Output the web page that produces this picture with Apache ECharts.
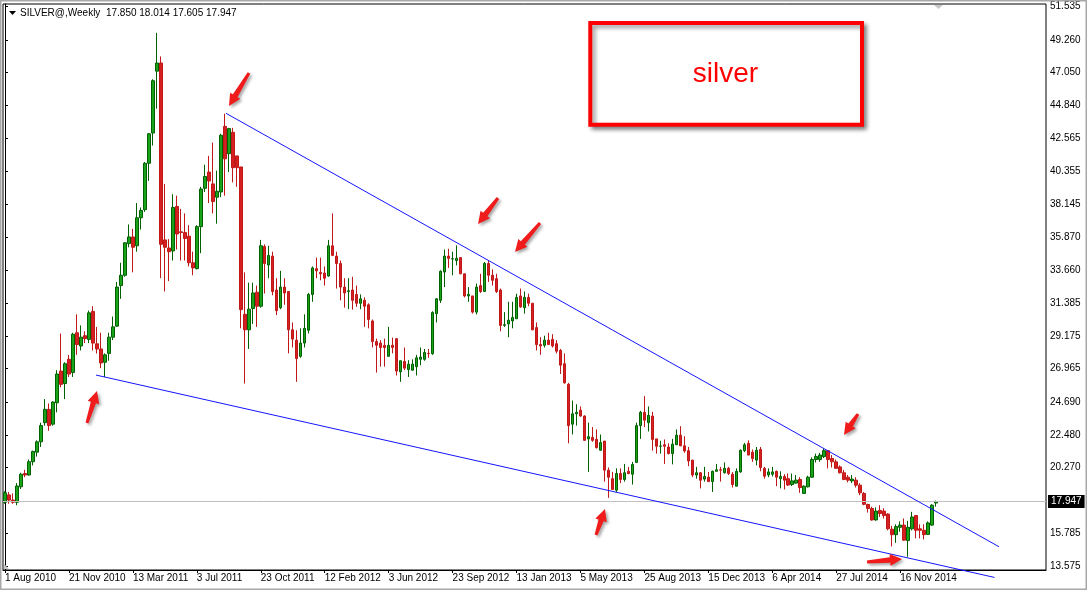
<!DOCTYPE html>
<html>
<head>
<meta charset="utf-8">
<script src="https://cdn.jsdelivr.net/npm/echarts@6/dist/echarts.min.js"></script>
<style>
html,body{margin:0;padding:0;background:#fff;}
#chart{width:1087px;height:590px;}
</style>
</head>
<body>
<div id="chart"></div>
<script>
// Weekly OHLC, first week 1 Aug 2010
const opens = [
17.9,18.4,18.05,17.9,18.95,19.85,19.75,20.65,21.3,22.0,23.3,24.2,23.2,24.65,26.8,25.95,27.6,26.7,29.4,28.5,
29.2,28.95,30.85,28.65,28.3,27.4,28.0,29.1,29.85,32.6,33.3,35.45,35.9,35.3,37.2,37.75,40.9,42.95,47.15,47.7,
35.7,35.15,34.95,37.97,36.25,36.2,35.95,34.15,33.75,36.6,39.2,40.3,39.5,38.6,38.95,43.4,41.55,43.0,41.4,40.65,
30.65,29.6,31.05,32.15,31.2,35.25,34.0,34.6,32.3,31.1,32.5,32.2,29.6,28.9,27.8,28.7,29.57,32.0,33.75,33.5,
33.45,33.25,35.3,34.6,34.1,32.5,32.2,32.3,32.0,31.4,31.6,31.3,30.2,28.8,28.7,28.55,27.8,28.55,29.0,26.75,
27.45,26.9,26.86,27.1,27.6,27.6,28.0,27.98,30.7,31.6,33.52,34.6,34.4,34.3,34.5,33.4,31.9,31.9,30.8,32.6,
32.2,34.1,33.3,33.07,32.3,29.9,30.0,30.2,30.35,31.9,31.1,31.8,31.4,29.75,28.6,28.55,28.9,28.95,28.66,28.2,
27.3,25.9,23.2,23.9,24.15,23.75,22.2,22.3,22.17,21.43,22.05,20.08,19.5,18.72,19.85,19.45,20.0,19.8,20.6,23.1,
24.0,23.3,23.75,22.2,21.7,21.8,21.65,21.2,21.8,22.45,21.73,21.4,20.76,19.75,19.9,19.47,19.6,19.3,20.0,20.1,
19.9,20.2,19.8,18.99,19.96,21.4,21.9,21.3,20.76,21.48,20.2,19.75,19.8,20.0,19.5,19.65,19.5,19.1,19.2,19.45,
18.5,18.95,19.6,20.8,20.8,21.0,21.4,20.87,20.64,20.3,19.9,19.6,19.35,19.4,19.06,18.5,17.75,17.48,16.7,17.35,
17.3,17.1,16.07,15.7,16.2,16.35,15.3,16.1,17.0,16.1,16.0,15.72,16.35,17.85
];
const closes = [
18.54,18.05,17.9,19.0,19.8,19.75,20.65,21.35,22.0,23.1,24.2,23.1,24.7,26.6,25.9,27.3,26.6,29.3,28.6,29.1,
29.0,30.75,28.7,28.3,27.35,27.9,29.1,29.8,32.5,33.3,35.5,35.9,35.2,37.2,37.7,40.9,42.9,46.5,47.7,35.4,
35.2,34.9,37.9,36.1,36.2,35.8,34.15,33.8,36.6,39.15,40.0,39.7,38.3,39.0,42.8,41.2,43.25,40.6,40.6,30.97,
29.6,31.0,32.1,31.2,35.3,34.1,34.65,32.2,30.9,32.5,32.1,29.6,28.97,27.65,28.7,29.7,32.0,33.8,33.6,33.4,
33.1,35.3,34.65,34.1,32.5,32.1,32.25,31.6,31.4,31.7,31.2,30.3,28.8,28.55,28.4,28.4,28.55,28.4,26.8,27.5,
27.0,27.27,27.27,27.7,27.75,28.06,27.98,30.77,31.7,33.57,34.6,34.45,34.42,34.45,33.4,31.9,32.0,30.8,32.5,32.2,
34.1,33.3,32.96,32.2,29.9,29.95,30.25,30.44,31.8,31.15,31.8,31.4,29.6,28.6,28.5,28.9,28.6,28.5,28.15,27.2,
26.0,23.1,23.9,24.0,23.75,22.1,22.35,22.1,21.6,21.95,20.08,19.6,18.77,19.85,19.45,19.9,19.85,20.46,23.1,24.0,
23.47,23.8,22.16,21.7,21.72,21.7,21.2,21.84,22.45,21.73,21.38,20.7,19.75,19.9,19.4,19.65,19.3,20.0,20.1,20.08,
20.2,19.85,19.1,20.0,21.43,21.8,21.1,20.87,21.43,20.26,19.67,19.96,19.96,19.6,19.65,19.4,19.07,19.35,19.4,18.9,
18.99,19.6,20.8,21.0,21.1,21.4,20.8,20.64,20.2,19.9,19.45,19.4,19.47,19.06,18.54,17.76,17.48,16.7,17.3,17.14,
17.0,16.1,15.7,16.25,16.35,15.33,16.2,16.9,16.0,16.0,15.7,16.5,17.7,17.947
];
const lows = [
17.8,17.8,17.8,17.7,18.8,19.6,19.7,20.4,21.0,21.65,23.1,22.75,23.1,24.0,25.7,24.9,26.4,26.4,27.9,28.2,
28.7,28.7,28.2,27.99,27.0,26.4,27.5,28.9,29.8,31.7,33.2,35.2,33.5,34.9,36.4,37.6,39.7,42.1,44.6,33.1,
32.2,32.9,34.3,35.05,34.3,34.3,33.9,33.3,33.7,34.8,38.95,38.2,37.5,36.8,38.6,38.7,40.3,39.6,39.3,29.7,
25.95,28.3,30.0,29.8,31.1,32.06,33.1,31.94,30.6,31.0,31.3,28.0,28.4,26.07,27.7,28.4,29.35,31.5,33.1,32.96,
32.6,33.2,34.6,32.4,31.6,31.1,31.0,30.97,31.15,31.0,29.8,29.7,28.4,26.7,27.1,27.1,27.8,28.0,26.5,26.07,
26.86,26.4,26.86,26.5,27.2,27.5,27.7,27.9,30.1,31.42,32.5,33.8,33.3,33.97,33.4,31.8,31.5,30.7,30.64,32.1,
32.2,32.85,32.6,32.1,29.5,29.8,29.1,29.7,30.35,31.1,30.7,31.2,29.57,28.2,27.9,28.4,28.6,28.4,28.0,26.6,
25.95,21.9,22.5,23.1,23.7,22.07,19.96,22.0,21.55,21.4,19.3,18.2,18.77,18.6,19.2,19.3,19.8,19.1,20.6,22.2,
23.0,22.7,21.4,21.2,21.2,20.5,21.15,20.47,21.8,21.7,21.26,20.35,19.6,19.5,18.84,19.3,19.3,18.6,20.0,19.3,
19.85,19.75,18.9,18.99,19.9,21.3,21.1,20.64,20.4,20.0,19.5,19.6,19.65,18.99,18.84,18.77,19.0,19.0,19.15,18.54,
18.46,18.9,19.55,20.6,20.65,20.9,20.2,20.26,20.2,19.85,19.4,19.25,19.2,18.9,18.38,17.7,17.2,16.65,16.65,16.9,
16.8,16.0,14.9,15.15,15.9,15.28,14.2,16.0,15.45,15.45,15.38,15.7,16.3,17.605
];
const highs = [
18.65,18.6,18.5,19.2,19.9,20.1,20.8,21.4,22.1,23.3,24.9,24.6,24.75,26.86,29.35,27.4,27.9,29.4,30.65,29.9,
29.5,30.9,31.2,29.8,29.4,28.0,29.4,30.5,32.85,34.15,35.55,36.75,36.45,38.2,37.9,40.98,42.95,46.6,49.75,48.15,
39.5,35.75,38.8,38.7,37.8,37.5,36.7,34.9,36.7,39.3,40.8,41.4,42.3,40.4,42.9,44.26,43.3,43.3,41.4,40.65,
33.5,32.8,32.8,32.6,35.7,35.4,35.3,34.9,33.1,33.6,33.1,32.2,30.1,29.57,29.7,30.65,32.1,33.9,34.5,34.5,
33.9,35.7,37.5,34.9,34.3,33.1,33.1,33.2,32.6,32.0,31.8,31.4,30.3,29.0,28.9,29.0,29.8,29.07,29.0,27.5,
28.4,27.54,27.6,27.9,28.4,28.3,28.3,30.86,31.75,33.64,35.04,35.1,34.9,35.33,34.5,33.4,32.5,31.9,32.74,33.4,
34.2,34.3,33.7,33.4,32.4,30.8,31.5,31.5,32.05,32.4,32.2,32.05,31.4,30.1,29.1,29.2,29.4,29.3,28.9,28.3,
28.0,26.0,24.8,24.55,24.4,23.8,23.3,23.0,22.84,22.5,22.05,20.26,19.96,20.2,20.2,20.5,20.3,20.64,23.3,24.1,
25.1,24.4,24.03,22.2,22.07,22.16,21.9,22.2,22.84,23.06,22.38,21.65,20.76,20.3,19.95,20.3,19.95,20.05,20.5,20.3,
20.6,20.3,19.95,20.2,21.48,21.93,22.1,21.48,21.65,21.65,20.3,20.2,20.3,20.05,20.0,19.8,19.85,19.85,19.75,19.6,
19.05,19.7,20.94,21.2,21.25,21.55,21.45,21.1,20.8,20.4,20.1,19.75,19.75,19.6,19.2,18.6,17.8,17.6,17.55,17.7,
17.5,17.15,16.3,16.4,16.6,16.8,16.64,17.25,17.0,16.4,16.4,16.6,17.77,18.014
];
const tickLabels = ['1 Aug 2010','21 Nov 2010','13 Mar 2011','3 Jul 2011','23 Oct 2011','12 Feb 2012','3 Jun 2012',
  '23 Sep 2012','13 Jan 2013','5 May 2013','25 Aug 2013','15 Dec 2013','6 Apr 2014','27 Jul 2014','16 Nov 2014'];
const yLabels = [51.535,49.260,47.050,44.840,42.565,40.355,38.145,35.870,33.660,31.385,29.175,26.965,24.690,22.480,20.270,15.785,13.575];
const currentPrice = 17.947;
// trend lines drawn by hand on the chart: [week index, price]
const upperTrend = [[55.3, 44.29], [248.75, 14.88]];
const lowerTrend = [[22.77, 26.53], [247.6, 12.80]];
// annotation arrows (tail, tip) in pixels
const arrows = [
  [[249,73],[229,106]],
  [[87,423],[97,391]],
  [[498,198],[478,224]],
  [[540,223],[515,252]],
  [[596,535],[605,509]],
  [[858,414],[844,435]],
  [[867,562],[902,559]]
];

const SLOTS = 261; // chart area includes a right-hand shift
const categories = [];
for (let i = 0; i < SLOTS; i++) categories.push('w' + i);
const ohlc = opens.map((o, i) => [o, closes[i], lows[i], highs[i]]);
const last = opens.length - 1;
const header = 'SILVER@,Weekly  ' + [opens[last], highs[last], lows[last], closes[last]].map(v => v.toFixed(3)).join(' ');

function arrowPoints(t, p) {
  const dx = p[0] - t[0], dy = p[1] - t[1];
  const L = Math.hypot(dx, dy);
  const ux = dx / L, uy = dy / L, nx = -uy, ny = ux;
  const h = 12, hw = 6, sw0 = 1.5, sw1 = 2.7;
  const bx = p[0] - ux * h, by = p[1] - uy * h;
  return [
    [t[0] + nx * sw0, t[1] + ny * sw0], [bx + nx * sw1, by + ny * sw1], [bx + nx * hw, by + ny * hw],
    [p[0], p[1]], [bx - nx * hw, by - ny * hw], [bx - nx * sw1, by - ny * sw1], [t[0] - nx * sw0, t[1] - ny * sw0]
  ];
}

const FONT = 'Liberation Sans, Arial, sans-serif';
const chart = echarts.init(document.getElementById('chart'), null, {renderer: 'canvas'});
const isTick = (index) => index % 16 === 0 && index / 16 < tickLabels.length;

const graphics = [
  {type: 'rect', shape: {x: 0.5, y: 0.5, width: 1086, height: 589}, style: {fill: 'none', stroke: '#a8a8a8', lineWidth: 2}, silent: true, z: 100},
  {type: 'polygon', shape: {points: [[9, 11], [16, 11], [12.5, 15]]}, style: {fill: '#000'}, z: 100},
  {type: 'text', x: 20, y: 13, style: {text: header, font: '10px ' + FONT, fill: '#000', textVerticalAlign: 'middle'}, z: 100},
  {type: 'polygon', shape: {points: [[934, 5], [943, 5], [938.5, 9]]}, style: {fill: '#c8c8c8'}, z: 100},
  {type: 'polygon', shape: {points: [[4, 564], [4, 569], [9, 569]]}, style: {fill: '#c8c8c8'}, z: 100},
  {type: 'rect', shape: {x: 590.3, y: 23, width: 271.7, height: 101.7}, style: {fill: '#fff', stroke: '#ff0000', lineWidth: 4,
    shadowBlur: 4, shadowOffsetX: 3, shadowOffsetY: 3, shadowColor: 'rgba(0,0,0,0.4)'}, z: 90},
  {type: 'text', x: 725.5, y: 74, style: {text: 'silver', font: '28px ' + FONT, fill: '#ff0000', textAlign: 'center', textVerticalAlign: 'middle'}, z: 91}
];
arrows.forEach(a => {
  graphics.push({type: 'polygon', shape: {points: arrowPoints(a[0], a[1])},
    style: {fill: '#f01c1c', shadowBlur: 3, shadowOffsetX: 2, shadowOffsetY: 2, shadowColor: 'rgba(0,0,0,0.35)'}, z: 95});
});

chart.setOption({
  animation: false,
  backgroundColor: '#fff',
  grid: {left: 3, right: 41, top: 4, bottom: 20, show: true, borderColor: '#000', borderWidth: 1, backgroundColor: 'transparent'},
  xAxis: [{
    type: 'category', data: categories, boundaryGap: true,
    axisLine: {show: true, lineStyle: {color: '#000'}},
    axisTick: {show: true, alignWithLabel: true, interval: isTick, length: 3, lineStyle: {color: '#000'}},
    axisLabel: {interval: isTick, formatter: (v, i) => isTick(i) ? tickLabels[i / 16] : '', align: 'left', margin: 3,
      fontSize: 10, fontFamily: FONT, color: '#000'},
    splitLine: {show: false}
  }, {
    type: 'value', min: -0.5, max: SLOTS - 0.5, show: false
  }],
  yAxis: {
    type: 'value', position: 'right', min: 13.304, max: 51.705,
    axisLine: {show: true, lineStyle: {color: '#000'}},
    axisTick: {show: true, customValues: yLabels, length: 3, lineStyle: {color: '#000'}},
    axisLabel: {customValues: yLabels, formatter: v => v.toFixed(3), margin: 4, fontSize: 10, fontFamily: FONT, color: '#000'},
    splitLine: {show: false}
  },
  series: [{
    type: 'candlestick', data: ohlc, barWidth: 3,
    itemStyle: {color: '#1aa31a', color0: '#d42020', borderColor: '#006000', borderColor0: '#c01818', borderWidth: 1},
    markLine: {
      silent: true, symbol: 'none',
      data: [{yAxis: currentPrice}],
      lineStyle: {color: '#c0c0c0', type: 'solid', width: 1},
      label: {show: true, position: 'end', formatter: currentPrice.toFixed(3), backgroundColor: '#000', color: '#fff',
        padding: [2, 3, 1, 3], fontSize: 10, fontFamily: FONT, distance: 2}
    }
  }, {
    type: 'line', xAxisIndex: 1, data: upperTrend, symbol: 'none', clip: false, silent: true,
    lineStyle: {color: '#1515ff', width: 1}, z: 5
  }, {
    type: 'line', xAxisIndex: 1, data: lowerTrend, symbol: 'none', clip: false, silent: true,
    lineStyle: {color: '#1515ff', width: 1}, z: 5
  }],
  graphic: graphics
});
</script>
</body>
</html>
